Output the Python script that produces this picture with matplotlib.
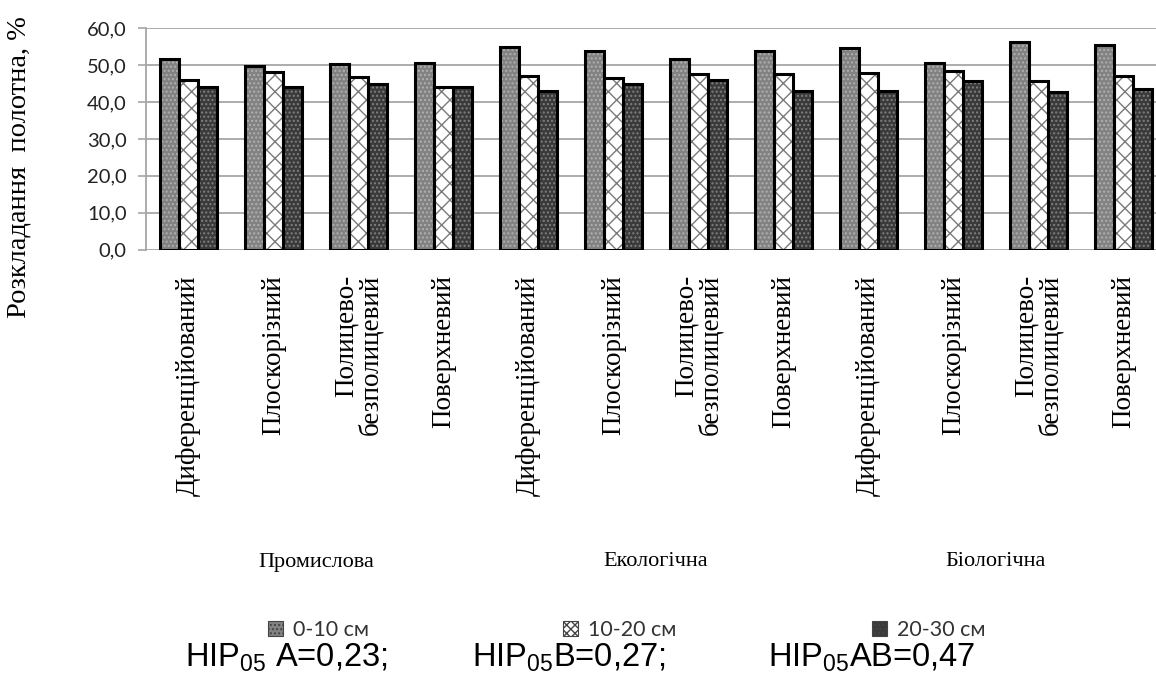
import matplotlib
matplotlib.use("Agg")
import matplotlib.pyplot as plt
import matplotlib.transforms as mtransforms
import numpy as np

plt.rcParams['mathtext.fontset'] = 'custom'
plt.rcParams['mathtext.rm'] = 'Liberation Sans'
plt.rcParams['hatch.linewidth'] = 1.0

tillage = ["Диференційований", "Плоскорізний", "Полицево-\nбезполицевий", "Поверхневий"] * 3
systems = ["Промислова", "Екологічна", "Біологічна"]
series_labels = ["0-10 см", "10-20 см", "20-30 см"]
depth_0_10 = [51.6, 49.8, 50.2, 50.5, 55.0, 53.8, 51.6, 53.8, 54.6, 50.5, 56.4, 55.4]
depth_10_20 = [45.9, 48.2, 46.7, 44.0, 47.1, 46.6, 47.5, 47.5, 47.9, 48.5, 45.6, 47.1]
depth_20_30 = [44.2, 44.2, 45.0, 44.0, 43.0, 45.0, 45.9, 43.0, 43.0, 45.6, 42.6, 43.4]
yticks = [0, 10, 20, 30, 40, 50, 60]
hip_texts = [r"HIP$_{\mathrm{05}}$ A=0,23;", r"HIP$_{\mathrm{05}}$B=0,27;", r"HIP$_{\mathrm{05}}$AB=0,47"]

W, H = 1156, 677
fig = plt.figure(figsize=(W / 100, H / 100), dpi=100)
ax = fig.add_axes([146 / W, (H - 249.5) / H, 1020 / W, (249.5 - 28.3) / H])

x = np.arange(len(tillage))
bw = 0.222
styles = [
    dict(face="#828282", hatch="....", hcol="#b0b0b0"),
    dict(face="white", hatch="xx", hcol="#7a7a7a"),
    dict(face="#3a3a3a", hatch="....", hcol="#808080"),
]
handles = []
for k, (vals, st, lab) in enumerate(zip([depth_0_10, depth_10_20, depth_20_30], styles, series_labels)):
    pos = x + (k - 1) * bw
    ax.bar(pos, vals, bw, color=st["face"], hatch=st["hatch"], edgecolor=st["hcol"], linewidth=0, zorder=3)
    ax.bar(pos, vals, bw, fill=False, edgecolor="black", linewidth=2.2, zorder=4)
    h = plt.Rectangle((0, 0), 1, 1, facecolor=st["face"], hatch=st["hatch"] * 2 if k == 1 else st["hatch"],
                      edgecolor="#444444", linewidth=0.8)
    handles.append(h)

ax.set_xlim(-0.5, 11.5)
ax.set_ylim(0, 60)
ax.set_yticks(yticks)
ax.set_yticklabels([f"{v:.1f}".replace(".", ",") for v in yticks], family="Lato", fontsize=14.5, color="#222222")
ax.yaxis.grid(True, color="#a6a6a6", linewidth=1.3, zorder=0)
ax.set_axisbelow(True)
for s in ["top", "right", "bottom"]:
    ax.spines[s].set_visible(False)
ax.spines["left"].set_color("#a6a6a6")
ax.spines["left"].set_linewidth(1.3)
ax.tick_params(axis="y", length=6, width=1.2, color="#a6a6a6", pad=8)
ax.tick_params(axis="x", length=0, pad=18.4)
ax.set_xticks(x)
ax.set_xticklabels(tillage, rotation=90, va="top", ha="center", multialignment="right",
                   family="Liberation Serif", fontsize=19.5, linespacing=0.9)

fig.text(19 / W, (H - 167) / H, "Розкладання  полотна, %", rotation=90, ha="center", va="center",
         family="Liberation Serif", fontsize=20.5)

trans = mtransforms.blended_transform_factory(ax.transData, fig.transFigure)
for i, name in enumerate(systems):
    ax.text(1.5 + 4 * i, (H - 562) / H, name, transform=trans, ha="center", va="center",
            family="Liberation Serif", fontsize=16)

leg_x = [268, 563, 872]
for xx, h, lab in zip(leg_x, handles, series_labels):
    leg = fig.legend([h], [lab], loc="center left", bbox_to_anchor=(xx / W, (H - 630) / H),
                     frameon=False, handlelength=0.7, handleheight=0.7, handletextpad=0.45,
                     borderpad=0, borderaxespad=0, prop={"family": "Lato", "size": 15.5})
    for t in leg.get_texts():
        t.set_color("#333333")

hip_x = [185, 472, 768]
for xx, t in zip(hip_x, hip_texts):
    fig.text(xx / W, (H - 658) / H, t, ha="left", va="center", family="Liberation Sans", fontsize=23.5)

fig.savefig("out.png", dpi=100)
